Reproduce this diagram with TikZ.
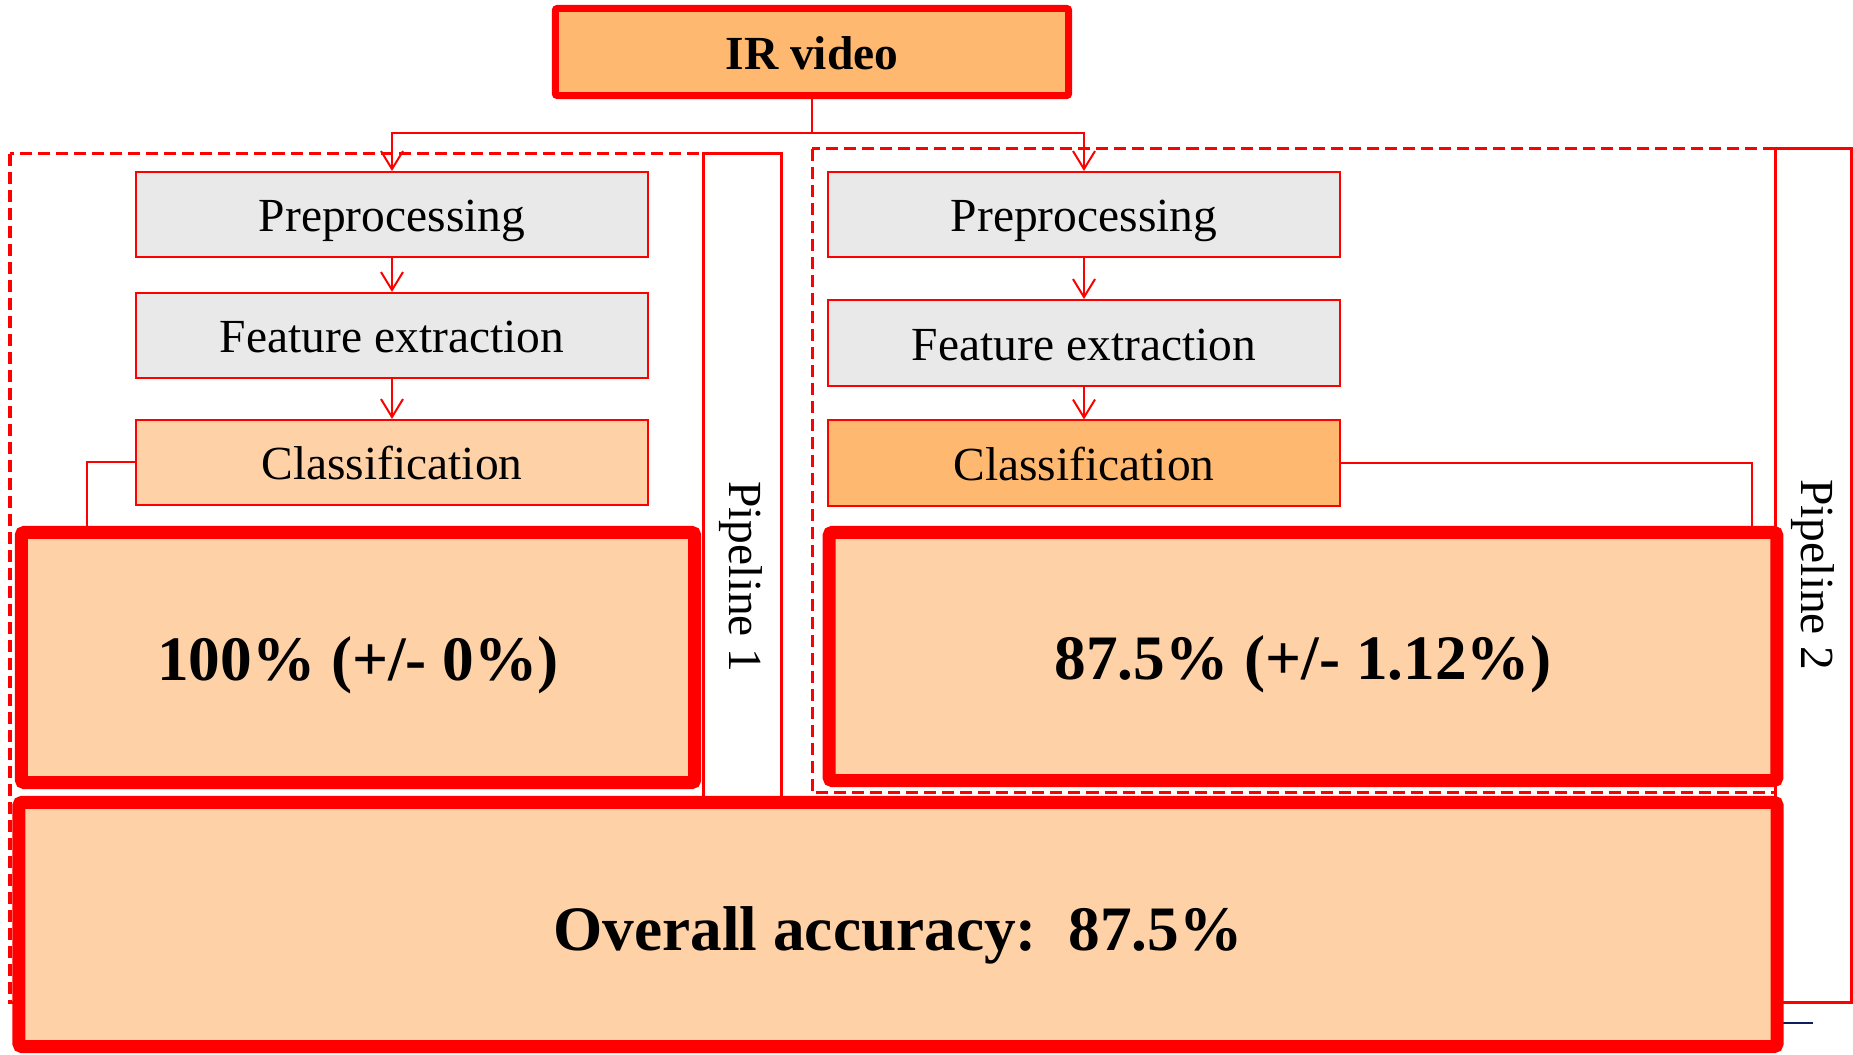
\documentclass[tikz,border=0pt]{standalone}
\usepackage{fontspec}
\setmainfont{Liberation Serif}
\usetikzlibrary{arrows.meta}
\definecolor{peach}{HTML}{FFD1A6}
\definecolor{apricot}{HTML}{FFB86F}
\definecolor{boxgray}{HTML}{E9E9E9}
\definecolor{slidenavy}{HTML}{0B1F5C}
\tikzset{
  stage/.style={draw=red,line width=0.02cm,minimum width=5.12cm,minimum height=0.85cm,inner sep=0pt,text height=9.7pt,text depth=0pt,font=\fontsize{13.5}{16}\selectfont},
  result/.style={draw=red,fill=peach,line width=0.13cm,rounded corners=0.03cm,inner sep=0pt,text height=12.8pt,text depth=0pt,font=\fontsize{18}{22}\selectfont\bfseries},
  flow/.style={red,line width=0.02cm,-{Straight Barb[length=0.18cm,width=0.22cm]}},
  link/.style={red,line width=0.02cm},
  pipe/.style={draw=red,fill=white,line width=0.03cm},
  group/.style={red,line width=0.03cm,dash pattern=on 0.12cm off 0.06cm},
}
\begin{document}
\begin{tikzpicture}[x=0.01cm,y=-0.01cm]
\useasboundingbox (0,0) rectangle (1853,1055);
\draw[group] (10,154) rectangle (703,1003);
\draw[group] (812,149) rectangle (1775,793);
\draw[pipe] (703,154) rectangle (781,1003);
\draw[pipe] (1775,149) rectangle (1851,1003);
\node[rotate=-90,font=\fontsize{13.5}{16}\selectfont] (pipeA) at (741,577) {Pipeline 1};
\node[rotate=-90,font=\fontsize{13.5}{16}\selectfont] (pipeB) at (1813,575) {Pipeline 2};
\draw[slidenavy,line width=0.025cm] (1783,1023) -- (1813,1023);
\node[draw=red,fill=apricot,line width=0.07cm,rounded corners=0.02cm,minimum width=5.13cm,minimum height=0.87cm,inner sep=0pt,text height=10.2pt,text depth=0pt,font=\fontsize{13.5}{16}\selectfont\bfseries] (ir) at (812,52) {IR video};
\node[stage,fill=boxgray] (prepL) at (392,214.5) {Preprocessing};
\node[stage,fill=boxgray] (featL) at (392,335.5) {Feature extraction};
\node[stage,fill=peach] (clsL) at (392,462.5) {Classification};
\node[stage,fill=boxgray] (prepR) at (1084,214.5) {Preprocessing};
\node[stage,fill=boxgray,minimum height=0.86cm] (featR) at (1084,343) {Feature extraction};
\node[stage,fill=apricot] (clsR) at (1084,463) {Classification};
\coordinate (split) at (812,133);
\coordinate (tapL) at (87,530);
\coordinate (tapR) at (1752,530);
\draw[flow] (ir.south) -- (split) -| (prepL.north);
\draw[flow] (split) -| (prepR.north);
\draw[flow] (prepL) -- (featL);
\draw[flow] (featL) -- (clsL);
\draw[flow] (prepR) -- (featR);
\draw[flow] (featR) -- (clsR);
\draw[link] (clsL.west) -| (tapL);
\draw[link] (clsR.east) -| (tapR);
\node[result,minimum width=6.73cm,minimum height=2.5cm] (accA) at (358,657.5) {100\% (+/- 0\%)};
\node[result,minimum width=9.47cm,minimum height=2.48cm] (accB) at (1303,656.5) {87.5\% (+/- 1.12\%)};
\node[result,minimum width=17.57cm,minimum height=2.44cm,text height=14.8pt] (total) at (898,924.5) {Overall accuracy:\ \ 87.5\%};
\end{tikzpicture}
\end{document}
